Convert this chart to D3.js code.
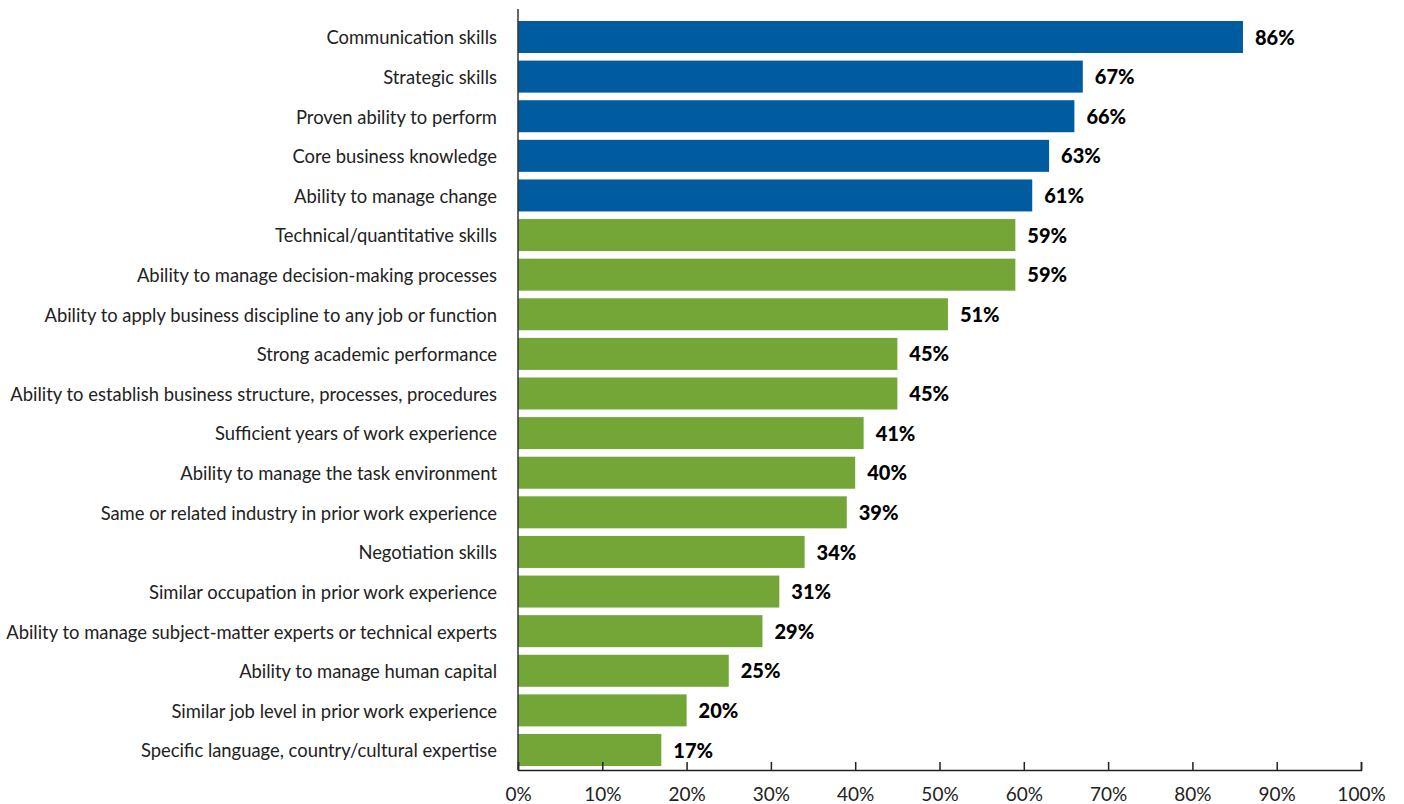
<!DOCTYPE html>
<html><head><meta charset="utf-8">
<script src="https://cdn.jsdelivr.net/npm/d3@7"></script>
<style>body{margin:0;background:#fff}svg{display:block}text{font-family:Lato,"Open Sans",sans-serif}</style>
</head><body><svg id="c" width="1404" height="804"></svg>
<script>
const categories = ["Communication skills","Strategic skills","Proven ability to perform","Core business knowledge","Ability to manage change","Technical/quantitative skills","Ability to manage decision-making processes","Ability to apply business discipline to any job or function","Strong academic performance","Ability to establish business structure, processes, procedures","Sufficient years of work experience","Ability to manage the task environment","Same or related industry in prior work experience","Negotiation skills","Similar occupation in prior work experience","Ability to manage subject-matter experts or technical experts","Ability to manage human capital","Similar job level in prior work experience","Specific language, country/cultural expertise"];
const values = [86,67,66,63,61,59,59,51,45,45,41,40,39,34,31,29,25,20,17];
const groups = ["top","top","top","top","top","other","other","other","other","other","other","other","other","other","other","other","other","other","other"];
const ticks = [0,10,20,30,40,50,60,70,80,90,100];
const colors = {top:"#005C9E", other:"#74A637"};

const svg = d3.select("#c");
const x = d3.scaleLinear().domain([0,100]).range([518,1361]);
const y = d3.scaleBand().domain(categories).range([17.2,769.8]).paddingInner(0.192).paddingOuter(0.096);

svg.selectAll("rect.bar").data(categories).join("rect")
  .attr("x", x(0)).attr("y", d=>y(d))
  .attr("width", (d,i)=>x(values[i])-x(0)).attr("height", y.bandwidth())
  .attr("fill", (d,i)=>colors[groups[i]]);

svg.selectAll("text.val").data(categories).join("text")
  .attr("x", (d,i)=>x(values[i])+12).attr("y", d=>y(d)+y.bandwidth()/2)
  .attr("dy","0.38em").attr("font-size",20).attr("font-weight",900).attr("fill","#000")
  .text((d,i)=>values[i]+"%");

svg.selectAll("text.cat").data(categories).join("text")
  .attr("x", 497).attr("y", d=>y(d)+y.bandwidth()/2)
  .attr("dy","0.4em").attr("text-anchor","end").attr("font-size",18.4).attr("fill","#222")
  .text(d=>d);

// x axis
const xa = svg.append("g").attr("transform","translate(0,770)")
  .call(d3.axisBottom(x).tickValues(ticks).tickSize(-8).tickPadding(18).tickFormat(d=>d+"%"));
xa.select(".domain").attr("stroke","#222").attr("stroke-width",1.5);
xa.selectAll(".tick line").attr("stroke","#222").attr("stroke-width",1.5);
xa.selectAll(".tick text").attr("font-size",19).attr("fill","#222").attr("font-family","Lato,sans-serif");

svg.append("line").attr("x1",x(0)).attr("x2",x(0)).attr("y1",9).attr("y2",770)
  .attr("stroke","#333").attr("stroke-width",1.5);
</script></body></html>
